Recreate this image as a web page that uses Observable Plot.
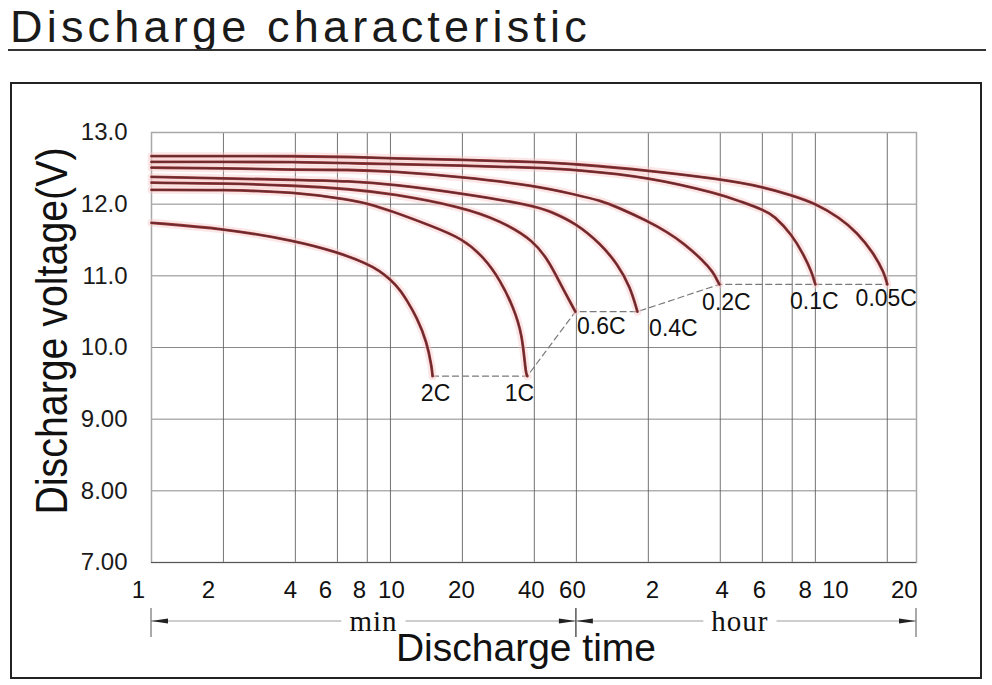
<!DOCTYPE html>
<html><head><meta charset="utf-8">
<script src="https://cdn.jsdelivr.net/npm/d3@7"></script>
<script src="https://cdn.jsdelivr.net/npm/@observablehq/plot@0.6"></script>
<style>
body{margin:0;background:#fff;}
#wrap{position:relative;width:992px;height:685px;overflow:hidden;font-family:"Liberation Sans",Arial,sans-serif;color:#1a1a1a;}
#chart{position:absolute;left:0;top:0;}
#title{position:absolute;left:10px;top:4px;font-size:45px;line-height:45px;letter-spacing:4.2px;white-space:nowrap;}
#rule{position:absolute;left:8px;top:49px;width:978px;height:2px;background:#333;}
#box{position:absolute;left:10px;top:82px;width:972px;height:597px;border:2px solid #222;box-sizing:border-box;pointer-events:none;}
</style></head><body>
<div id="wrap"><div id="chart"></div><div id="title">Discharge characteristic</div><div id="rule"></div><div id="box"></div></div>
<script>
// ---- data (x = discharge time in minutes, y = voltage) ----
const rates = ["0.05C","0.1C","0.2C","0.4C","0.6C","1C","2C"];
const time_005C = [1,2,4,6.8,10,20,40,60,120,240,365,480,600,759,900,1050,1166,1200];
const volt_005C = [12.67,12.67,12.67,12.66,12.64,12.62,12.59,12.56,12.47,12.35,12.24,12.12,12.01,11.81,11.60,11.32,11.04,10.88];
const time_01C = [1,2,4,6.8,10,20,40,60,120,240,290,365,403,480,535,580,600];
const volt_01C = [12.59,12.59,12.59,12.57,12.56,12.54,12.51,12.48,12.38,12.14,12.04,11.92,11.84,11.57,11.30,11.05,10.88];
const time_02C = [1,2,4,6.8,10,20,40,60,75.5,89,120,144,168,204,224,231,238];
const volt_02C = [12.51,12.50,12.48,12.48,12.46,12.38,12.26,12.13,12.05,11.96,11.76,11.61,11.46,11.21,11.05,10.96,10.88];
const time_04C = [1,2,4,6.8,10,20,40,46.6,60,75.5,89,101,108];
const volt_04C = [12.38,12.36,12.34,12.32,12.28,12.15,11.98,11.90,11.73,11.45,11.17,10.84,10.50];
const time_06C = [1,2,4,6.8,10,20,28.8,40,46.6,51.4,59.4];
const volt_06C = [12.30,12.29,12.26,12.21,12.15,11.96,11.77,11.49,11.17,10.89,10.50];
const time_1C = [1,2,4,6.8,8,10,15,20,24.6,28.8,32.7,35.6,36.8,37.4];
const volt_1C = [12.20,12.20,12.17,12.06,12.01,11.91,11.69,11.52,11.26,10.94,10.56,10.19,9.64,9.60];
const time_2C = [1,2,4,6,8,9,10,11,11.7,12.9,14.2,14.9,15];
const volt_2C = [11.74,11.66,11.49,11.33,11.17,11.07,10.95,10.80,10.66,10.42,10.08,9.72,9.60];

const xTicks = [1,2,4,6,8,10,20,40,60,120,240,360,480,600,1200];
const xTickLabels = ["1","2","4","6","8","10","20","40","60","2","4","6","8","10","20"];
const yTicks = [7,8,9,10,11,12,13];
const yTickLabels = ["7.00","8.00","9.00","10.0","11.0","12.0","13.0"];
const unitSpans = [{unit:"min", from:1, to:60}, {unit:"hour", from:60, to:1590}];

// ---- build tables ----
const seriesTimes = [time_005C,time_01C,time_02C,time_04C,time_06C,time_1C,time_2C];
const seriesVolts = [volt_005C,volt_01C,volt_02C,volt_04C,volt_06C,volt_1C,volt_2C];
const rows = rates.flatMap((r,k) => seriesTimes[k].map((t,i) => ({rate:r, t, v:seriesVolts[k][i]})));
const ends = rates.map((r,k) => ({rate:r, t:seriesTimes[k].at(-1), v:seriesVolts[k].at(-1)}));
const cutoff = ends.slice().sort((a,b) => a.t - b.t);
const xTickRows = xTicks.map((t,i) => ({t, label:xTickLabels[i]}));

// ---- styles ----
const labelOffset = {"2C":[3,17],"1C":[-8,17],"0.6C":[26,15],"0.4C":[36,17],"0.2C":[7,18],"0.1C":[-1,17],"0.05C":[-1,14]};
const xLabelDx = [-13,-15,-5,-12,-8,1,-1,-3,-4,4,2,-3,13,20,17];
const curve = "basis";

const plot = Plot.plot({
  width: 992, height: 685,
  marginTop: 132, marginLeft: 151, marginRight: 76, marginBottom: 123,
  style: {fontFamily: "Liberation Sans, Arial, sans-serif", background: "transparent", color: "#1a1a1a"},
  x: {type: "log", domain: [1, 1590], axis: null},
  y: {domain: [7, 13]},
  marks: [
    Plot.gridY(yTicks, {stroke: "#8a8a8a", strokeOpacity: 1}),
    Plot.gridX(xTicks, {stroke: "#5a5a5a", strokeOpacity: 0.85}),
    Plot.frame({stroke: "#a8a8a8", strokeWidth: 1.5}),
    Plot.ruleY([7], {stroke: "#555"}),
    Plot.axisY({ticks: yTicks, tickFormat: d => yTickLabels[yTicks.indexOf(d)], tickSize: 0, tickPadding: 24, fontSize: 24, label: null}),
    ...xTickRows.map((r,i) => Plot.text([r], {x: "t", text: "label", frameAnchor: "bottom", lineAnchor: "middle", textAnchor: "middle", dx: xLabelDx[i], dy: 28, fontSize: 24, fill: "#111"})),
    Plot.line(cutoff, {x: "t", y: "v", stroke: "#7a7a7a", strokeWidth: 1.2, strokeDasharray: "6,4"}),
    Plot.line(rows, {x: "t", y: "v", z: "rate", stroke: "#f6c9c9", strokeWidth: 8, strokeOpacity: 0.45, curve}),
    Plot.line(rows, {x: "t", y: "v", z: "rate", stroke: "#a03c3c", strokeWidth: 2.8, curve}),
    Plot.line(rows, {x: "t", y: "v", z: "rate", stroke: "#6a2a2e", strokeWidth: 1.7, curve}),
    ...ends.map(e => Plot.text([e], {x: "t", y: "v", text: "rate", dx: labelOffset[e.rate][0], dy: labelOffset[e.rate][1], fontSize: 23, fill: "#111"})),
    Plot.text(["Discharge voltage(V)"], {frameAnchor: "left", rotate: -90, textAnchor: "start", lineAnchor: "middle", dx: -99, dy: 167, fontSize: 44, fill: "#111"}),
    Plot.text(["Discharge time"], {frameAnchor: "bottom", textAnchor: "middle", lineAnchor: "middle", dx: -8, dy: 86, fontSize: 39, fill: "#111"})
  ]
});
document.getElementById("chart").appendChild(plot);

// fit the rotated axis title to the reference length
d3.select(plot).selectAll("text").filter(function(){ return this.textContent === "Discharge voltage(V)"; })
  .attr("textLength", 367).attr("lengthAdjust", "spacingAndGlyphs");

// unit arrows below the x axis, positioned through the plot's own scales
const sx = plot.scale("x"), sy = plot.scale("y");
const yb = sy.apply(7) + 59;
const g = d3.select(plot).append("g");
const unitDx = {min: 10, hour: -6};
unitSpans.forEach(s => {
  const x0 = sx.apply(s.from), x1 = sx.apply(s.to);
  const cx = (x0 + x1) / 2 + unitDx[s.unit];
  const t = g.append("text").attr("x", cx).attr("y", yb + 10).attr("text-anchor", "middle")
    .attr("font-family", "Liberation Serif, Times New Roman, serif").attr("font-size", 29)
    .attr("letter-spacing", 1).attr("fill", "#111").text(s.unit);
  const w = t.node().getComputedTextLength();
  g.append("line").attr("x1", x0).attr("x2", cx - w/2 - 8).attr("y1", yb).attr("y2", yb).attr("stroke", "#bdbdbd").attr("stroke-width", 1.3);
  g.append("line").attr("x1", cx + w/2 + 8).attr("x2", x1).attr("y1", yb).attr("y2", yb).attr("stroke", "#bdbdbd").attr("stroke-width", 1.3);
  g.append("path").attr("d", `M${x0},${yb}L${x0+17},${yb-2.5}L${x0+17},${yb+2.5}Z`).attr("fill", "#222");
  g.append("path").attr("d", `M${x1},${yb}L${x1-17},${yb-2.5}L${x1-17},${yb+2.5}Z`).attr("fill", "#222");
  [x0, x1].forEach(x => g.append("line").attr("x1", x).attr("x2", x).attr("y1", yb - 13).attr("y2", yb + 16).attr("stroke", "#555").attr("stroke-width", 1));
});
</script>
</body></html>
